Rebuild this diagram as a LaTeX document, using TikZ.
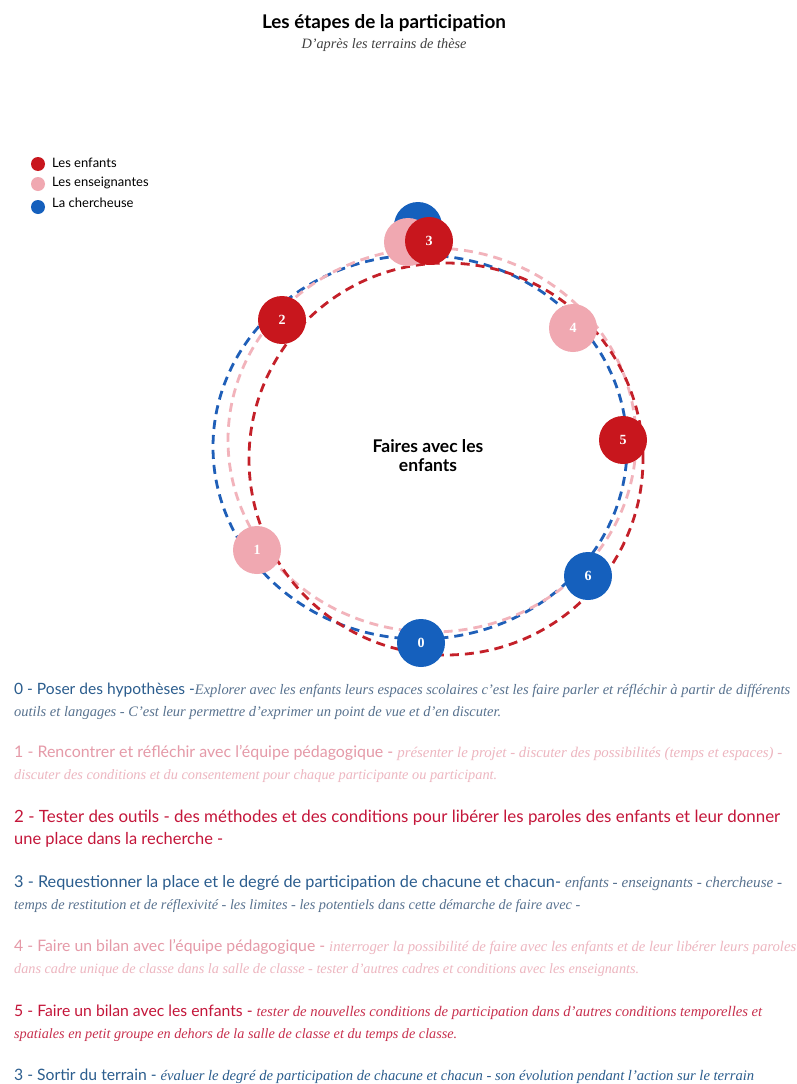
\documentclass[tikz,border=0pt]{standalone}
\usepackage{fontspec}
\usepackage{graphicx}
\newfontfamily\gill{Lato}
\newfontfamily\numfont{Liberation Serif}
\newfontfamily\garit{Liberation Serif}
\definecolor{cred}{HTML}{C8161D}
\definecolor{cpink}{HTML}{F0A8B1}
\definecolor{cblue}{HTML}{1560BD}
\definecolor{rred}{HTML}{C42029}
\definecolor{rpink}{HTML}{F2B3BB}
\definecolor{rblue}{HTML}{1F5FB8}
\definecolor{tblue}{HTML}{2B5D8E}
\definecolor{tblueit}{HTML}{58728F}
\definecolor{tpink}{HTML}{E59AA8}
\definecolor{tpinkit}{HTML}{EDB6C0}
\definecolor{tred}{HTML}{C4163A}
\definecolor{tredit}{HTML}{C8304E}
\tikzset{
  ring/.style={line width=2.8pt, dash pattern=on 9pt off 6pt},
  dot/.style={circle, minimum size=48pt, inner sep=0pt, text=white, font=\numfont\bfseries\fontsize{14}{14}\selectfont},
  legdot/.style={circle, minimum size=14pt, inner sep=0pt},
  legtext/.style={anchor=west, inner sep=0pt, font=\gill\fontsize{13}{15}\selectfont, text=black},
  txtline/.style={anchor=base west, inner sep=0pt},
}
\newcommand{\hdx}{\gill\fontsize{14.5}{16}\selectfont}
\newcommand{\itx}{\garit\itshape\fontsize{13.5}{16}\selectfont}
\begin{document}
\begin{tikzpicture}[x=1pt,y=-1pt]
\useasboundingbox (0,0) rectangle (797,1084);
\fill[white] (0,0) rectangle (797,1084);
% title
\node[anchor=base, inner sep=0pt] (title) at (384,28) {\resizebox{244pt}{!}{\gill\bfseries\fontsize{17}{18}\selectfont Les étapes de la participation}};
\node[anchor=base, inner sep=0pt, text=black!75] (subtitle) at (384,48) {\resizebox{165pt}{!}{\garit\itshape\fontsize{14}{15}\selectfont D’après les terrains de thèse}};
% legend
\node[legdot, fill=cred] (l1) at (38,164) {};
\node[legdot, fill=cpink] (l2) at (38,184) {};
\node[legdot, fill=cblue] (l3) at (38,207) {};
\node[legtext] (lt1) at (52,163) {Les enfants};
\node[legtext] (lt2) at (52,183) {Les enseignantes};
\node[legtext] (lt3) at (52,203) {La chercheuse};
% rings
\draw[ring, rblue] (420,447) ellipse [x radius=207pt, y radius=192pt];
\draw[ring, rpink] (432,440) ellipse [x radius=204pt, y radius=192pt];
\draw[ring, rred] (446,459) ellipse [x radius=197pt, y radius=196pt];
% centre label
\node[align=center, font=\gill\bfseries\fontsize{17.5}{19}\selectfont] (centre) at (428,456) {Faires avec les\\enfants};
% step dots
\node[dot, fill=cblue] (n3b) at (418,226) {};
\node[dot, fill=cpink] (n3p) at (408,242) {};
\node[dot, fill=cred] (n3) at (429,241) {3};
\node[dot, fill=cred] (n2) at (282,320) {2};
\node[dot, fill=cpink] (n4) at (573,328) {4};
\node[dot, fill=cred] (n5) at (623,440) {5};
\node[dot, fill=cblue] (n6) at (588,576) {6};
\node[dot, fill=cblue] (n0) at (421,643) {0};
\node[dot, fill=cpink] (n1) at (257,550) {1};
% texts
\node[txtline] (t0a) at (14,694) {\resizebox{776pt}{!}{{\hdx\color{tblue}0 - Poser des hypothèses -}{\itx\color{tblueit}Explorer avec les enfants leurs espaces scolaires c’est les faire parler et réfléchir à partir de différents}}};
\node[txtline] (t0b) at (14,716) {\resizebox{487pt}{!}{{\itx\color{tblueit}outils et langages - C’est leur permettre d’exprimer un point de vue et d’en discuter.}}};
\node[txtline] (t1a) at (14,757) {\resizebox{768pt}{!}{{\hdx\color{tpink}1 - Rencontrer et réfléchir avec l’équipe pédagogique - }{\itx\color{tpinkit}présenter le projet - discuter des possibilités (temps et espaces) -}}};
\node[txtline] (t1b) at (14,779) {\resizebox{483pt}{!}{{\itx\color{tpinkit}discuter des conditions et du consentement pour chaque participante ou participant.}}};
\node[txtline] (t2a) at (14,822) {\resizebox{766pt}{!}{{\hdx\color{tred}2 - Tester des outils - des méthodes et des conditions pour libérer les paroles des enfants et leur donner}}};
\node[txtline] (t2b) at (14,844) {\resizebox{209pt}{!}{{\hdx\color{tred}une place dans la recherche -}}};
\node[txtline] (t3a) at (14,887) {\resizebox{768pt}{!}{{\hdx\color{tblue}3 - Requestionner la place et le degré de participation de chacune et chacun- }{\itx\color{tblueit}enfants - enseignants - chercheuse -}}};
\node[txtline] (t3b) at (14,909) {\resizebox{566pt}{!}{{\itx\color{tblueit}temps de restitution et de réflexivité - les limites - les potentiels dans cette démarche de faire avec -}}};
\node[txtline] (t4a) at (14,951) {\resizebox{782pt}{!}{{\hdx\color{tpink}4 - Faire un bilan avec l’équipe pédagogique - }{\itx\color{tpinkit}interroger la possibilité de faire avec les enfants et de leur libérer leurs paroles}}};
\node[txtline] (t4b) at (14,973) {\resizebox{625pt}{!}{{\itx\color{tpinkit}dans cadre unique de classe dans la salle de classe - tester d’autres cadres et conditions avec les enseignants.}}};
\node[txtline] (t5a) at (14,1016) {\resizebox{748pt}{!}{{\hdx\color{tred}5 - Faire un bilan avec les enfants - }{\itx\color{tredit}tester de nouvelles conditions de participation dans d’autres conditions temporelles et}}};
\node[txtline] (t5b) at (14,1038) {\resizebox{443pt}{!}{{\itx\color{tredit}spatiales en petit groupe en dehors de la salle de classe et du temps de classe.}}};
\node[txtline] (t6) at (14,1080) {\resizebox{740pt}{!}{{\hdx\color{tblue}3 - Sortir du terrain - }{\itx\color{tblue}évaluer le degré de participation de chacune et chacun - son évolution pendant l’action sur le terrain}}};
\end{tikzpicture}
\end{document}
